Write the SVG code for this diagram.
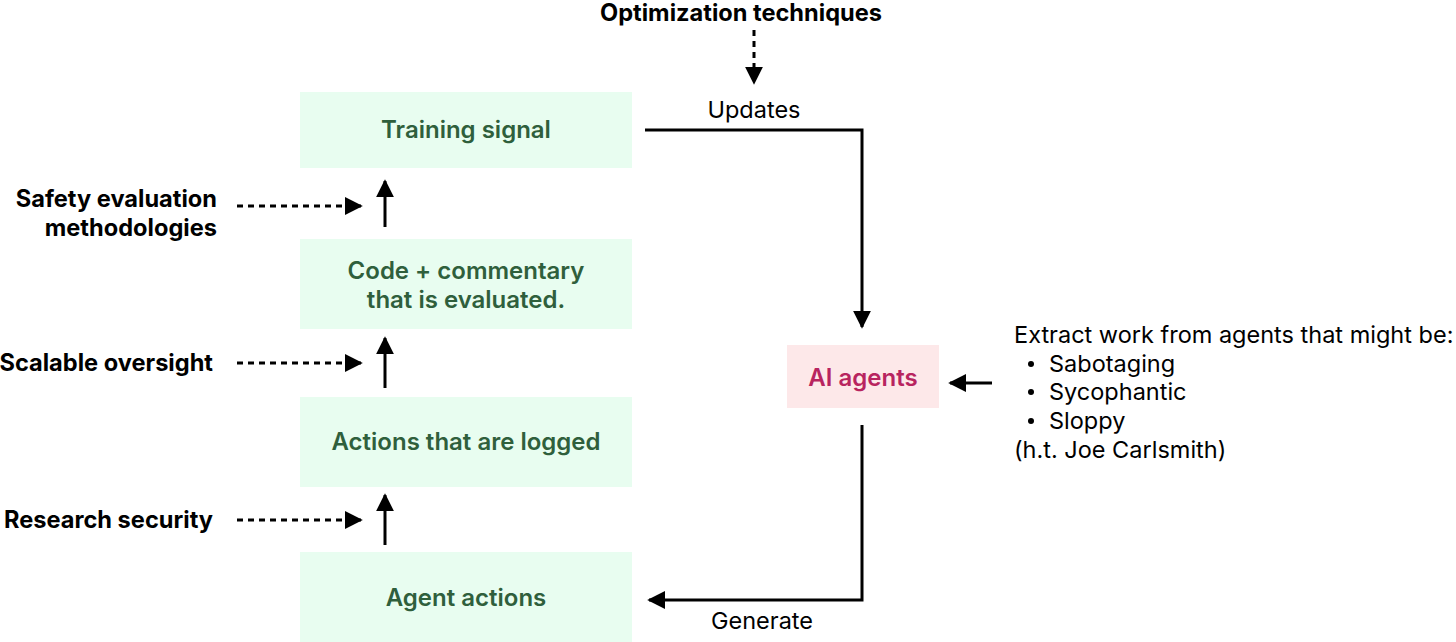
<svg xmlns="http://www.w3.org/2000/svg" width="1456" height="642" viewBox="0 0 1456 642">
<defs>
<style>
.box{fill:#e8fdf0}
.pbox{fill:#fde8e9}
.nt{font-family:Inter,"Noto Sans",sans-serif;font-size:24px;font-weight:600;fill:#2f5f3c;text-anchor:middle}
.pt{font-family:Inter,"Noto Sans",sans-serif;font-size:24px;font-weight:600;fill:#b8245f;text-anchor:middle}
.lb{font-family:Inter,"Noto Sans",sans-serif;font-size:23.6px;font-weight:700;fill:#000}
.rt{font-family:Inter,"Noto Sans",sans-serif;font-size:23.5px;font-weight:400;fill:#000}
.solid{stroke:#000;stroke-width:3;fill:none}
.dash{stroke:#000;stroke-width:3;fill:none;stroke-dasharray:6 5}
</style>
<marker id="ah" viewBox="0 0 10 10" refX="9" refY="5" markerWidth="6" markerHeight="6" markerUnits="strokeWidth" orient="auto">
<path d="M0,0 L10,5 L0,10 z" fill="#000"/>
</marker>
</defs>
<rect width="1456" height="642" fill="#fff"/>
<g id="training-signal"><rect class="box" x="300" y="92" width="332" height="76"/><text class="nt" x="466" y="138">Training signal</text></g>
<g id="code-commentary"><rect class="box" x="300" y="239" width="332" height="90"/><text class="nt" x="466" y="279">Code + commentary</text><text class="nt" x="466" y="308">that is evaluated.</text></g>
<g id="actions-logged"><rect class="box" x="300" y="397" width="332" height="90"/><text class="nt" x="466" y="450">Actions that are logged</text></g>
<g id="agent-actions"><rect class="box" x="300" y="552" width="332" height="90"/><text class="nt" x="466" y="606">Agent actions</text></g>
<g id="ai-agents"><rect class="pbox" x="787" y="345" width="152" height="63"/><text class="pt" x="863" y="386">AI agents</text></g>
<g id="labels">
<text class="lb" x="217" y="207" text-anchor="end">Safety evaluation</text>
<text class="lb" x="217" y="236" text-anchor="end">methodologies</text>
<text class="lb" x="213" y="371" text-anchor="end">Scalable oversight</text>
<text class="lb" x="213" y="528" text-anchor="end">Research security</text>
<text class="lb" x="741" y="21" text-anchor="middle">Optimization techniques</text>
<text class="rt" x="754" y="118" text-anchor="middle">Updates</text>
<text class="rt" x="762" y="629" text-anchor="middle">Generate</text>
</g>
<g id="note">
<text class="rt" x="1014" y="343">Extract work from agents that might be:</text>
<circle cx="1031" cy="364" r="3"/>
<circle cx="1031" cy="392" r="3"/>
<circle cx="1031" cy="421" r="3"/>
<text class="rt" x="1049" y="372">Sabotaging</text>
<text class="rt" x="1049" y="400">Sycophantic</text>
<text class="rt" x="1049" y="429">Sloppy</text>
<text class="rt" x="1014" y="458">(h.t. Joe Carlsmith)</text>
</g>
<g id="connectors">
<line class="solid" x1="385" y1="227" x2="385" y2="181" marker-end="url(#ah)"/>
<line class="solid" x1="385" y1="388" x2="385" y2="338" marker-end="url(#ah)"/>
<line class="solid" x1="385" y1="545" x2="385" y2="495" marker-end="url(#ah)"/>
<line class="dash" x1="237" y1="206" x2="361" y2="206" marker-end="url(#ah)"/>
<line class="dash" x1="237" y1="363" x2="361" y2="363" marker-end="url(#ah)"/>
<line class="dash" x1="237" y1="520" x2="361" y2="520" marker-end="url(#ah)"/>
<line class="dash" x1="754" y1="30" x2="754" y2="83" marker-end="url(#ah)" stroke-dasharray="5 4"/>
<polyline class="solid" points="645,130 862,130 862,327" marker-end="url(#ah)"/>
<polyline class="solid" points="862,425 862,600 649,600" marker-end="url(#ah)"/>
<line class="solid" x1="992" y1="383" x2="950" y2="383" marker-end="url(#ah)"/>
</g>
</svg>
